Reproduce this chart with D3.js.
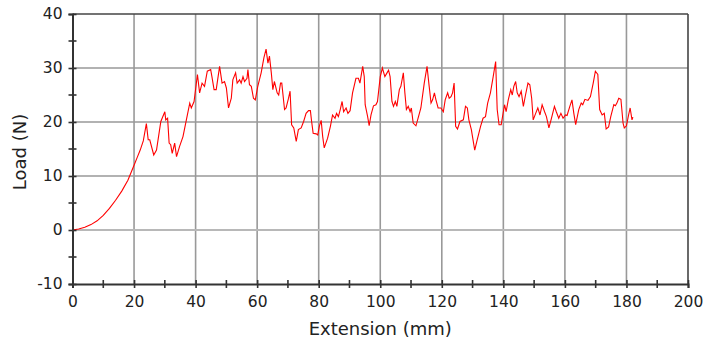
<!DOCTYPE html>
<html>
<head>
    <meta charset="utf-8">
    <title>load-extension</title>
    <style>
        body {
            background: #ffffff;
            margin: 0;
            padding: 0;
        }
        text {
            font-family: "DejaVu Sans", Verdana, sans-serif;
            fill: #222222;
        }
    </style>
</head>
<body>
    <svg id="chart" width="707" height="345"></svg>
    <script src="https://d3js.org/d3.v7.min.js"></script>
    <script>
        // axis ticks
        const xTicks = [0, 20, 40, 60, 80, 100, 120, 140, 160, 180, 200];
        const xMinor = [10, 30, 50, 70, 90, 110, 130, 150, 170, 190];
        const yTicks = [-10, 0, 10, 20, 30, 40];
        const yMinor = [-5, 5, 15, 25, 35];

        // extension (mm)
        const extension = [
            0, 2, 4, 6, 8, 10, 12, 14, 16, 18, 19, 20, 21, 22, 23, 24,
            24.6, 25.1, 26.4, 27.3, 28.7, 30.0, 30.3, 30.9, 31.4, 31.9, 32.4, 33.2, 33.8, 34.8, 35.9,
            37.0, 38.1, 38.6, 39.5, 40.6, 41.3, 42.1, 42.9, 43.8, 44.9, 45.3, 46.0, 46.7, 47.8, 48.6,
            49.4, 50.0, 50.7, 51.6, 52.1, 53.0, 53.5, 54.3, 54.8, 55.4, 55.9, 56.7, 57.0, 57.5, 58.1,
            58.8, 59.4, 60.2, 61.3, 62.2, 62.9, 63.5, 64.0, 64.6, 65.1, 65.6, 66.5, 67.0, 67.6, 68.0,
            68.9, 69.4, 70.2, 70.7, 71.2, 71.9, 72.7, 73.4, 74.3, 75.1, 75.9, 76.7, 77.3, 77.7, 78.2,
            79.2, 79.7, 80.2, 80.8, 81.3, 81.8, 82.9, 83.8, 84.5, 85.3, 85.8, 86.4, 87.0, 87.6, 88.1,
            88.9, 89.5, 90.2, 91.0, 92.1, 92.9, 93.4, 94.3, 94.8, 95.1, 95.9, 96.4, 97.0, 97.8, 98.6,
            99.1, 100.0, 100.7, 101.5, 102.2, 102.7, 103.2, 103.8, 104.3, 104.9, 105.4, 106.2, 106.7,
            107.5, 108.0, 108.5, 109.1, 109.7, 110.1, 110.7, 111.6, 112.3, 113.2, 114.3, 115.2, 115.9,
            116.5, 117.0, 117.6, 118.1, 118.8, 119.7, 120.5, 121.1, 121.9, 122.4, 123.0, 123.5, 124.0,
            124.5, 125.1, 125.9, 127.0, 127.7, 128.3, 128.8, 129.6, 130.7, 131.5, 132.6, 133.4, 134.2,
            134.9, 135.8, 136.7, 137.5, 138.0, 138.6, 139.3, 140.0, 140.4, 140.9, 141.6, 142.4, 142.9,
            143.4, 144.0, 144.5, 145.1, 145.8, 146.5, 147.2, 148.0, 148.6, 149.2, 149.7, 150.5, 151.2,
            151.9, 152.6, 153.4, 154.0, 154.8, 155.5, 156.6, 157.2, 158.0, 158.7, 159.4, 160.2, 160.7,
            161.6, 162.3, 162.9, 163.5, 164.5, 165.3, 165.8, 166.5, 167.5, 168.3, 169.2, 169.9, 170.7,
            171.3, 172.1, 172.8, 173.4, 174.2, 174.9, 175.9, 176.4, 176.9, 177.5, 178.2, 178.9, 179.3,
            180.0, 180.7, 181.2, 181.8, 182.1
        ];

        // load (N)
        const load = [
            0, 0.2, 0.5, 1.0, 1.7, 2.7, 4.0, 5.5, 7.2, 9.2, 10.6, 12.0, 13.4, 14.8, 16.5, 19.7,
            16.7, 16.7, 13.9, 14.8, 20.1, 21.9, 20.4, 20.7, 16.1, 15.8, 14.2, 16.1, 13.6, 15.5, 17.3,
            20.4, 23.5, 22.6, 23.8, 28.8, 25.4, 27.2, 26.6, 29.4, 29.7, 28.4, 26.0, 26.0, 30.3, 27.2,
            27.5, 26.3, 22.6, 24.4, 27.8, 29.1, 27.2, 27.8, 27.2, 28.4, 27.5, 28.1, 29.7, 26.9, 26.6,
            24.4, 24.1, 26.6, 29.1, 31.9, 33.5, 30.9, 32.2, 29.1, 26.0, 27.5, 25.4, 25.0, 27.2, 27.2,
            22.3, 22.6, 24.4, 25.7, 19.5, 18.9, 16.4, 18.6, 18.9, 20.1, 21.6, 22.1, 22.1, 20.1, 17.9,
            17.8, 17.6, 19.2, 20.3, 17.3, 15.2, 17.0, 19.2, 21.3, 20.7, 21.6, 21.0, 22.3, 23.8, 21.9,
            22.6, 21.6, 22.1, 25.4, 28.1, 28.1, 27.2, 30.3, 28.4, 23.2, 21.0, 19.3, 21.3, 23.0, 23.2,
            23.8, 28.4, 30.0, 28.4, 29.1, 29.6, 28.4, 23.8, 22.9, 23.8, 22.9, 26.0, 26.6,
            29.1, 25.4, 22.3, 22.9, 21.9, 22.6, 19.8, 19.3, 20.7, 22.6, 27.2, 30.3, 26.6,
            23.5, 24.1, 25.4, 24.1, 22.6, 22.6, 21.9, 24.1, 25.4, 24.4, 24.7, 25.4, 27.2,
            19.2, 18.7, 20.1, 20.4, 22.9, 22.6, 20.4, 18.6, 14.8, 16.7, 19.2, 20.7, 21.0,
            23.5, 25.4, 28.4, 31.2, 22.3, 19.5, 19.5, 21.9, 23.2, 21.9, 24.1, 26.0, 25.0,
            26.6, 27.5, 25.4, 24.7, 25.7, 22.9, 25.0, 27.2, 26.9, 24.4, 20.4, 21.6, 22.6,
            21.3, 23.2, 21.9, 21.0, 18.9, 20.4, 22.9, 21.9, 20.7, 21.6, 20.7, 21.3, 21.2,
            22.9, 24.1, 21.6, 19.5, 22.3, 23.5, 23.2, 24.2, 24.0, 24.7, 27.2, 29.4, 28.8,
            22.3, 21.3, 21.6, 18.7, 19.1, 21.0, 23.2, 23.0, 23.5, 24.4, 24.2, 19.8, 18.9,
            19.3, 21.3, 22.6, 20.4, 20.9
        ];

        const svg = d3.select('#chart');
        const margin = { left: 72.5, top: 14, right: 19, bottom: 61 };
        const width = 707 - margin.left - margin.right;
        const height = 345 - margin.top - margin.bottom;

        const x = d3.scaleLinear().domain([0, 200]).range([0, width]);
        const y = d3.scaleLinear().domain([-10, 40]).range([height, 0]);

        const g = svg.append('g')
            .attr('transform', `translate(${margin.left}, ${margin.top})`);

        // grid lines
        g.selectAll('.vgrid')
            .data(xTicks.filter(d => d > 0 && d < 200))
            .enter().append('line')
            .attr('x1', d => x(d)).attr('x2', d => x(d))
            .attr('y1', 0).attr('y2', height)
            .style('stroke', '#999999').style('stroke-width', 1.6);

        g.selectAll('.hgrid')
            .data(yTicks.filter(d => d > -10 && d < 40))
            .enter().append('line')
            .attr('x1', 0).attr('x2', width)
            .attr('y1', d => y(d)).attr('y2', d => y(d))
            .style('stroke', d => d === 0 ? '#b8b8b8' : '#999999')
            .style('stroke-width', d => d === 0 ? 2.2 : 1.6);

        // top and right border
        g.append('line').attr('x1', 0).attr('x2', width).attr('y1', 0).attr('y2', 0)
            .style('stroke', '#444').style('stroke-width', 1.6);
        g.append('line').attr('x1', width).attr('x2', width).attr('y1', 0).attr('y2', height)
            .style('stroke', '#444').style('stroke-width', 1.6);

        // data line
        const pts = extension.map((e, i) => [e, load[i]]);
        g.append('path')
            .datum(pts)
            .attr('d', d3.line().x(d => x(d[0])).y(d => y(d[1])))
            .style('fill', 'none')
            .style('stroke', '#ff0000')
            .style('stroke-width', 1.1);

        // axes
        const xAxis = d3.axisBottom(x).tickValues(xTicks).tickSize(4).tickPadding(8)
            .tickFormat(d => String(d));
        const yAxis = d3.axisLeft(y).tickValues(yTicks).tickSize(4).tickPadding(6)
            .tickFormat(d => String(d));

        const gx = g.append('g').attr('transform', `translate(0, ${height})`).call(xAxis);
        const gy = g.append('g').call(yAxis);

        [gx, gy].forEach(a => {
            a.select('.domain').style('stroke', '#333').style('stroke-width', 2);
            a.selectAll('.tick line').style('stroke', '#333').style('stroke-width', 1.6);
            a.selectAll('.tick text').style('font-size', '15.5px').style('fill', '#222');
        });
        // ticks crossing the axis
        gx.selectAll('.tick line').attr('y1', -4);
        gy.selectAll('.tick line').attr('x1', 4);

        // minor ticks
        g.selectAll('.xminor').data(xMinor).enter().append('line')
            .attr('x1', d => x(d)).attr('x2', d => x(d))
            .attr('y1', height - 4).attr('y2', height + 4)
            .style('stroke', '#333').style('stroke-width', 1.6);
        g.selectAll('.yminor').data(yMinor).enter().append('line')
            .attr('x1', -4).attr('x2', 4)
            .attr('y1', d => y(d)).attr('y2', d => y(d))
            .style('stroke', '#333').style('stroke-width', 1.6);

        // axis titles
        svg.append('text')
            .attr('x', margin.left + width / 2)
            .attr('y', 335)
            .attr('text-anchor', 'middle')
            .style('font-size', '18px')
            .text('Extension (mm)');

        svg.append('text')
            .attr('transform', `translate(26, ${margin.top + height / 2 + 3}) rotate(-90)`)
            .attr('text-anchor', 'middle')
            .style('font-size', '18px')
            .text('Load (N)');
    </script>
</body>
</html>
